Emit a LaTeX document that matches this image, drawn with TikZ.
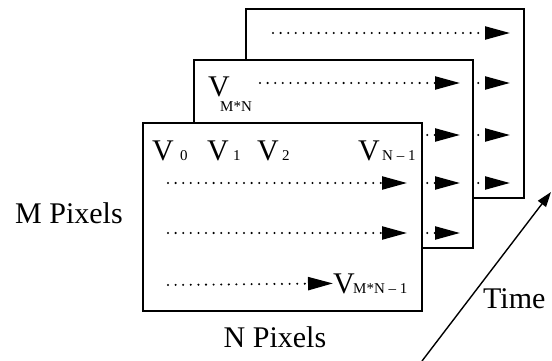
\documentclass[tikz,border=0pt]{standalone}
\usepackage{fontspec}
\setmainfont{Liberation Serif}
\usetikzlibrary{arrows.meta}
\begin{document}
\begin{tikzpicture}[x=1pt,y=-1pt,
  frame/.style={draw=black,fill=white,line width=1.8pt},
  row/.style={line width=2.3pt,line cap=round,dash pattern=on 0pt off 7.6pt,
    -{Triangle[length=25pt,width=13pt]}},
  lab/.style={font=\fontsize{30}{36}\selectfont,inner sep=0pt,anchor=base west},
  sub/.style={font=\fontsize{15}{18}\selectfont,inner sep=0pt,anchor=base west},
  timeline/.style={line width=1.4pt,-{Triangle[length=15pt,width=10pt]}}]
\useasboundingbox (0,0) rectangle (552,361);
% back frame
\node[frame,minimum width=278pt,minimum height=189pt,inner sep=0pt,anchor=north west] (back) at (245,8) {};
\foreach \yy [count=\i] in {33,83,135,183} {
  \coordinate (bs\i) at (273,\yy); \coordinate (be\i) at (510,\yy);
  \draw[row] (bs\i) -- (be\i);
}
% middle frame
\node[frame,minimum width=279pt,minimum height=188pt,inner sep=0pt,anchor=north west] (mid) at (193,59) {};
\foreach \yy [count=\i] in {83,135,183,233} {
  \coordinate (ms\i) at (260,\yy); \coordinate (me\i) at (460,\yy);
  \draw[row] (ms\i) -- (me\i);
}
% front frame
\node[frame,minimum width=279pt,minimum height=188pt,inner sep=0pt,anchor=north west] (front) at (142,122) {};
\foreach \yy [count=\i] in {183,233} {
  \coordinate (fs\i) at (168,\yy); \coordinate (fe\i) at (407,\yy);
  \draw[row] (fs\i) -- (fe\i);
}
\coordinate (fs3) at (168,285);
% labels
\node[lab] (v0) at (152,160) {V}; \node[sub] (v0s) at (180,160) {0};
\node[lab] (v1) at (207,160) {V}; \node[sub] (v1s) at (233,160) {1};
\node[lab] (v2) at (257,160) {V}; \node[sub] (v2s) at (282,160) {2};
\node[lab] (vn) at (358,160) {V}; \node[sub] (vns) at (382,160) {N – 1};
\node[lab] (vmn) at (208,97) {V}; \node[sub] (vmns) at (220,112) {M*N};
\node[lab] (vl) at (333,293) {V}; \node[sub] (vls) at (353,293) {M*N – 1};
\draw[row] (fs3) -- (vl.west);
\node[lab] (mp) at (15,223) {M Pixels};
\node[lab,anchor=base] (np) at (275,347) {N Pixels};
\node[lab] (tm) at (483,308) {Time};
% time arrow
\coordinate (t0) at (422,361);
\coordinate (t1) at (551,192);
\draw[timeline] (t0) -- (t1);
\end{tikzpicture}
\end{document}
